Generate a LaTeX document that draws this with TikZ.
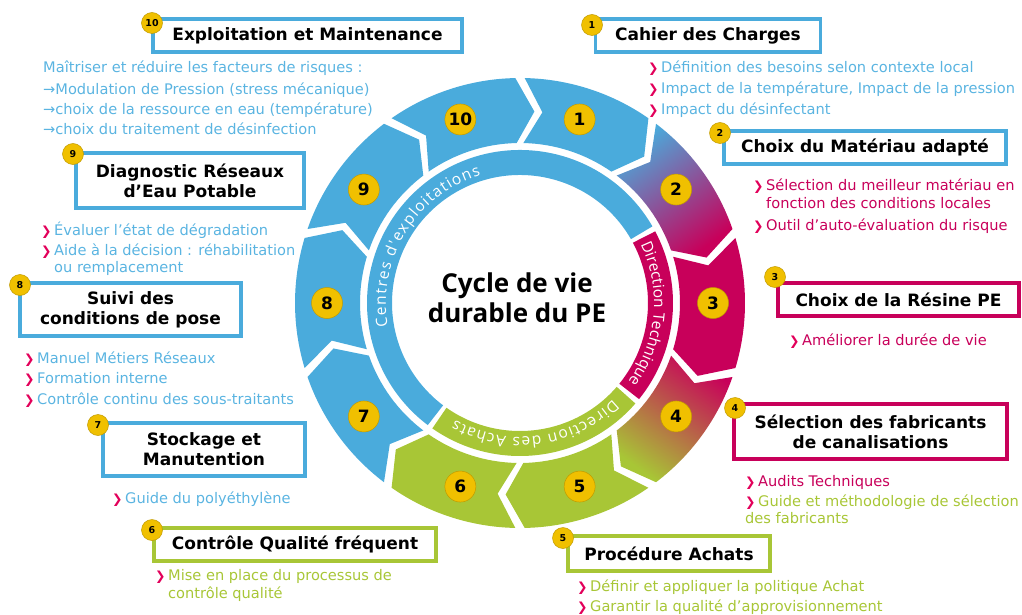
\documentclass[tikz,border=0pt]{standalone}
\usepackage{fontspec}
\setmainfont{DejaVu Sans}
\newfontfamily\ringfont{Open Sans}
\usetikzlibrary{decorations.text}

\definecolor{col_4aabdc}{RGB}{74,171,220}
\definecolor{col_5ab4e1}{RGB}{90,180,225}
\definecolor{col_c8005a}{RGB}{200,0,90}
\definecolor{col_e2005a}{RGB}{226,0,90}
\definecolor{col_a8c636}{RGB}{168,198,54}
\definecolor{col_f0c000}{RGB}{240,192,0}
\definecolor{col_000000}{RGB}{0,0,0}
\newcommand{\tikzdrawpiece}[2]{%
\path[#2] (#1+16.8:225) arc[start angle=#1+16.8, end angle=#1-16.8, radius=225] -- (#1-22.3:192) -- (#1-16.8:160) arc[start angle=#1-16.8, end angle=#1+16.8, radius=160] -- (#1+11.3:192) -- cycle;
}
\newcommand{\tikzdrawbullet}[5]{%
\node[bullet] (#1-b) at (#2-1,#3) {❯};
\node[bodytext=#4] (#1) at (#2+12,#3) {#5};
}

\tikzset{
  titlebox/.style={draw=#1, line width=3.5pt, fill=white, inner sep=0pt, align=center, text=col_000000, font=\bfseries\fontsize{17}{20}\selectfont},
  numbadge/.style={circle, fill=col_f0c000, draw=col_f0c000!80!black, line width=0.5pt, inner sep=0pt, minimum size=21pt, text=col_000000, font=\bfseries\fontsize{9.5}{9.5}\selectfont},
  ringbadge/.style={numbadge, minimum size=31pt, font=\bfseries\fontsize{17}{17}\selectfont},
  bodytext/.style={anchor=base west, inner sep=0pt, text=#1, font=\fontsize{14.6}{16}\selectfont},
  bullet/.style={anchor=base west, inner sep=0pt, text=col_e2005a, font=\fontsize{12.5}{12.5}\selectfont},
  bandtext/.style={decorate, decoration={text along path, text align=fit to path, text={|\ringfont\fontsize{15.5}{15.5}\selectfont\color{white}|#1}}},
}

\begin{document}
\begin{tikzpicture}[x=1pt, y=-1pt]
\useasboundingbox (0,0) rectangle (1022,615);
\begin{scope}[shift={(520,303)}, y=1pt]
\tikzdrawpiece{72}{fill=col_4aabdc}     %% 1
\tikzdrawpiece{36}{shade, top color=col_4aabdc, bottom color=col_c8005a, shading angle=36}     %% 2
\tikzdrawpiece{0}{fill=col_c8005a}     %% 3
\tikzdrawpiece{-36}{shade, top color=col_c8005a, bottom color=col_a8c636, shading angle=-36}     %% 4
\tikzdrawpiece{-72}{fill=col_a8c636}     %% 5
\tikzdrawpiece{-108}{fill=col_a8c636}     %% 6
\tikzdrawpiece{-144}{fill=col_4aabdc}     %% 7
\tikzdrawpiece{-180}{fill=col_4aabdc}     %% 8
\tikzdrawpiece{-216}{fill=col_4aabdc}     %% 9
\tikzdrawpiece{-252}{fill=col_4aabdc}     %% 10
\draw[col_4aabdc, line width=25pt] (30:140.5) arc[start angle=30, end angle=233, radius=140.5];
\draw[col_c8005a, line width=25pt] (28:140.5) arc[start angle=28, end angle=-39, radius=140.5];
\draw[col_a8c636, line width=25pt] (-41:140.5) arc[start angle=-41, end angle=-125, radius=140.5];
\path[bandtext={Centres d'exploitations}] (190:134) arc[start angle=190, end angle=107, radius=134];
\path[bandtext={Direction Technique}] (26:134) arc[start angle=26, end angle=-36, radius=134];
\path[bandtext={Direction des Achats}] (-46:134) arc[start angle=-46, end angle=-119, radius=134];
\node[font=\ringfont\bfseries\fontsize{26}{30}\selectfont, align=center] (cycle) at (-3,5) {Cycle de vie\\durable du PE};
\node[ringbadge] (n1) at (72:193) {1};
\node[ringbadge] (n2) at (36:193) {2};
\node[ringbadge] (n3) at (0:193) {3};
\node[ringbadge] (n4) at (-36:193) {4};
\node[ringbadge] (n5) at (-72:193) {5};
\node[ringbadge] (n6) at (-108:193) {6};
\node[ringbadge] (n7) at (-144:193) {7};
\node[ringbadge] (n8) at (-180:193) {8};
\node[ringbadge] (n9) at (-216:193) {9};
\node[ringbadge] (n10) at (-252:193) {10};
\end{scope}

%% 10
\node[titlebox=col_4aabdc, minimum width=309pt, minimum height=33pt] (exploitation) at (307.5,35.5) {Exploitation et Maintenance};
\node[numbadge] (exploitation-n) at (152,23) {10};
\node[bodytext=col_5ab4e1] (risques) at (43,73) {Maîtriser et réduire les facteurs de risques :};
\node[bodytext=col_5ab4e1] (risques-1) at (43,95) {→Modulation de Pression (stress mécanique)};
\node[bodytext=col_5ab4e1] (risques-2) at (43,115) {→choix de la ressource en eau (température)};
\node[bodytext=col_5ab4e1] (risques-3) at (43,135) {→choix du traitement de désinfection};

%% 9
\node[titlebox=col_4aabdc, minimum width=228pt, minimum height=55pt] (diagnostic) at (190,180.5) {Diagnostic Réseaux\\d’Eau Potable};
\node[numbadge] (diagnostic-n) at (73,154) {9};
\tikzdrawbullet{diagnostic-1}{42}{235}{col_5ab4e1}{Évaluer l’état de dégradation}
\tikzdrawbullet{diagnostic-2}{42}{255}{col_5ab4e1}{Aide à la décision : réhabilitation}
\node[bodytext=col_5ab4e1] (diagnostic-3) at (54,272) {ou remplacement};

%% 8
\node[titlebox=col_4aabdc, minimum width=221pt, minimum height=53pt] (pose) at (130.5,309.5) {Suivi des\\conditions de pose};
\node[numbadge] (pose-n) at (20,285) {8};
\tikzdrawbullet{pose-1}{25}{363}{col_5ab4e1}{Manuel Métiers Réseaux}
\tikzdrawbullet{pose-2}{25}{383}{col_5ab4e1}{Formation interne}
\tikzdrawbullet{pose-3}{25}{404}{col_5ab4e1}{Contrôle continu des sous-traitants}

%% 7
\node[titlebox=col_4aabdc, minimum width=202pt, minimum height=53pt] (stockage) at (204,449.5) {Stockage et\\Manutention};
\node[numbadge] (stockage-n) at (98,425) {7};
\tikzdrawbullet{stockage-1}{113}{503}{col_5ab4e1}{Guide du polyéthylène}

%% 6
\node[titlebox=col_a8c636, minimum width=282pt, minimum height=33pt] (qualite) at (295,544.5) {Contrôle Qualité fréquent};
\node[numbadge] (qualite-n) at (152,530) {6};
\tikzdrawbullet{qualite-1}{156}{580}{col_a8c636}{Mise en place du processus de}
\node[bodytext=col_a8c636] (qualite-2) at (168,598) {contrôle qualité};

%% 5
\node[titlebox=col_a8c636, minimum width=202pt, minimum height=35pt] (achats) at (669,553.5) {Procédure Achats};
\node[numbadge] (achats-n) at (563,538) {5};
\tikzdrawbullet{achats-1}{578}{591}{col_a8c636}{Définir et appliquer la politique Achat}
\tikzdrawbullet{achats-2}{578}{611}{col_a8c636}{Garantir la qualité d’approvisionnement}

%% 4
\node[titlebox=col_c8005a, minimum width=273pt, minimum height=55pt] (fabricants) at (870.5,431.5) {Sélection des fabricants\\de canalisations};
\node[numbadge] (fabricants-n) at (735,408) {4};
\tikzdrawbullet{fabricants-1}{746}{486}{col_c8005a}{Audits Techniques}
\tikzdrawbullet{fabricants-2}{746}{506}{col_a8c636}{Guide et méthodologie de sélection}
\node[bodytext=col_a8c636] (fabricants-3) at (745,523) {des fabricants};

%% 3
\node[titlebox=col_c8005a, minimum width=241pt, minimum height=33pt] (resine) at (898.5,299.5) {Choix de la Résine PE};
\node[numbadge] (resine-n) at (775,277) {3};
\tikzdrawbullet{resine-1}{790}{345}{col_c8005a}{Améliorer la durée de vie}

%% 2
\node[titlebox=col_4aabdc, minimum width=282pt, minimum height=33pt] (materiau) at (865,147.5) {Choix du Matériau adapté};
\node[numbadge] (materiau-n) at (720,133) {2};
\tikzdrawbullet{materiau-1}{754}{190}{col_c8005a}{Sélection du meilleur matériau en}
\node[bodytext=col_c8005a] (materiau-2) at (766,208) {fonction des conditions locales};
\tikzdrawbullet{materiau-3}{754}{230}{col_c8005a}{Outil d’auto-évaluation du risque}

%% 1
\node[titlebox=col_4aabdc, minimum width=225pt, minimum height=33pt] (charges) at (708,35.5) {Cahier des Charges};
\node[numbadge] (charges-n) at (592,25) {1};
\tikzdrawbullet{charges-1}{649}{73}{col_5ab4e1}{Définition des besoins selon contexte local}
\tikzdrawbullet{charges-2}{649}{94}{col_5ab4e1}{Impact de la température, Impact de la pression}
\tikzdrawbullet{charges-3}{649}{114}{col_5ab4e1}{Impact du désinfectant}
\end{tikzpicture}
\end{document}
